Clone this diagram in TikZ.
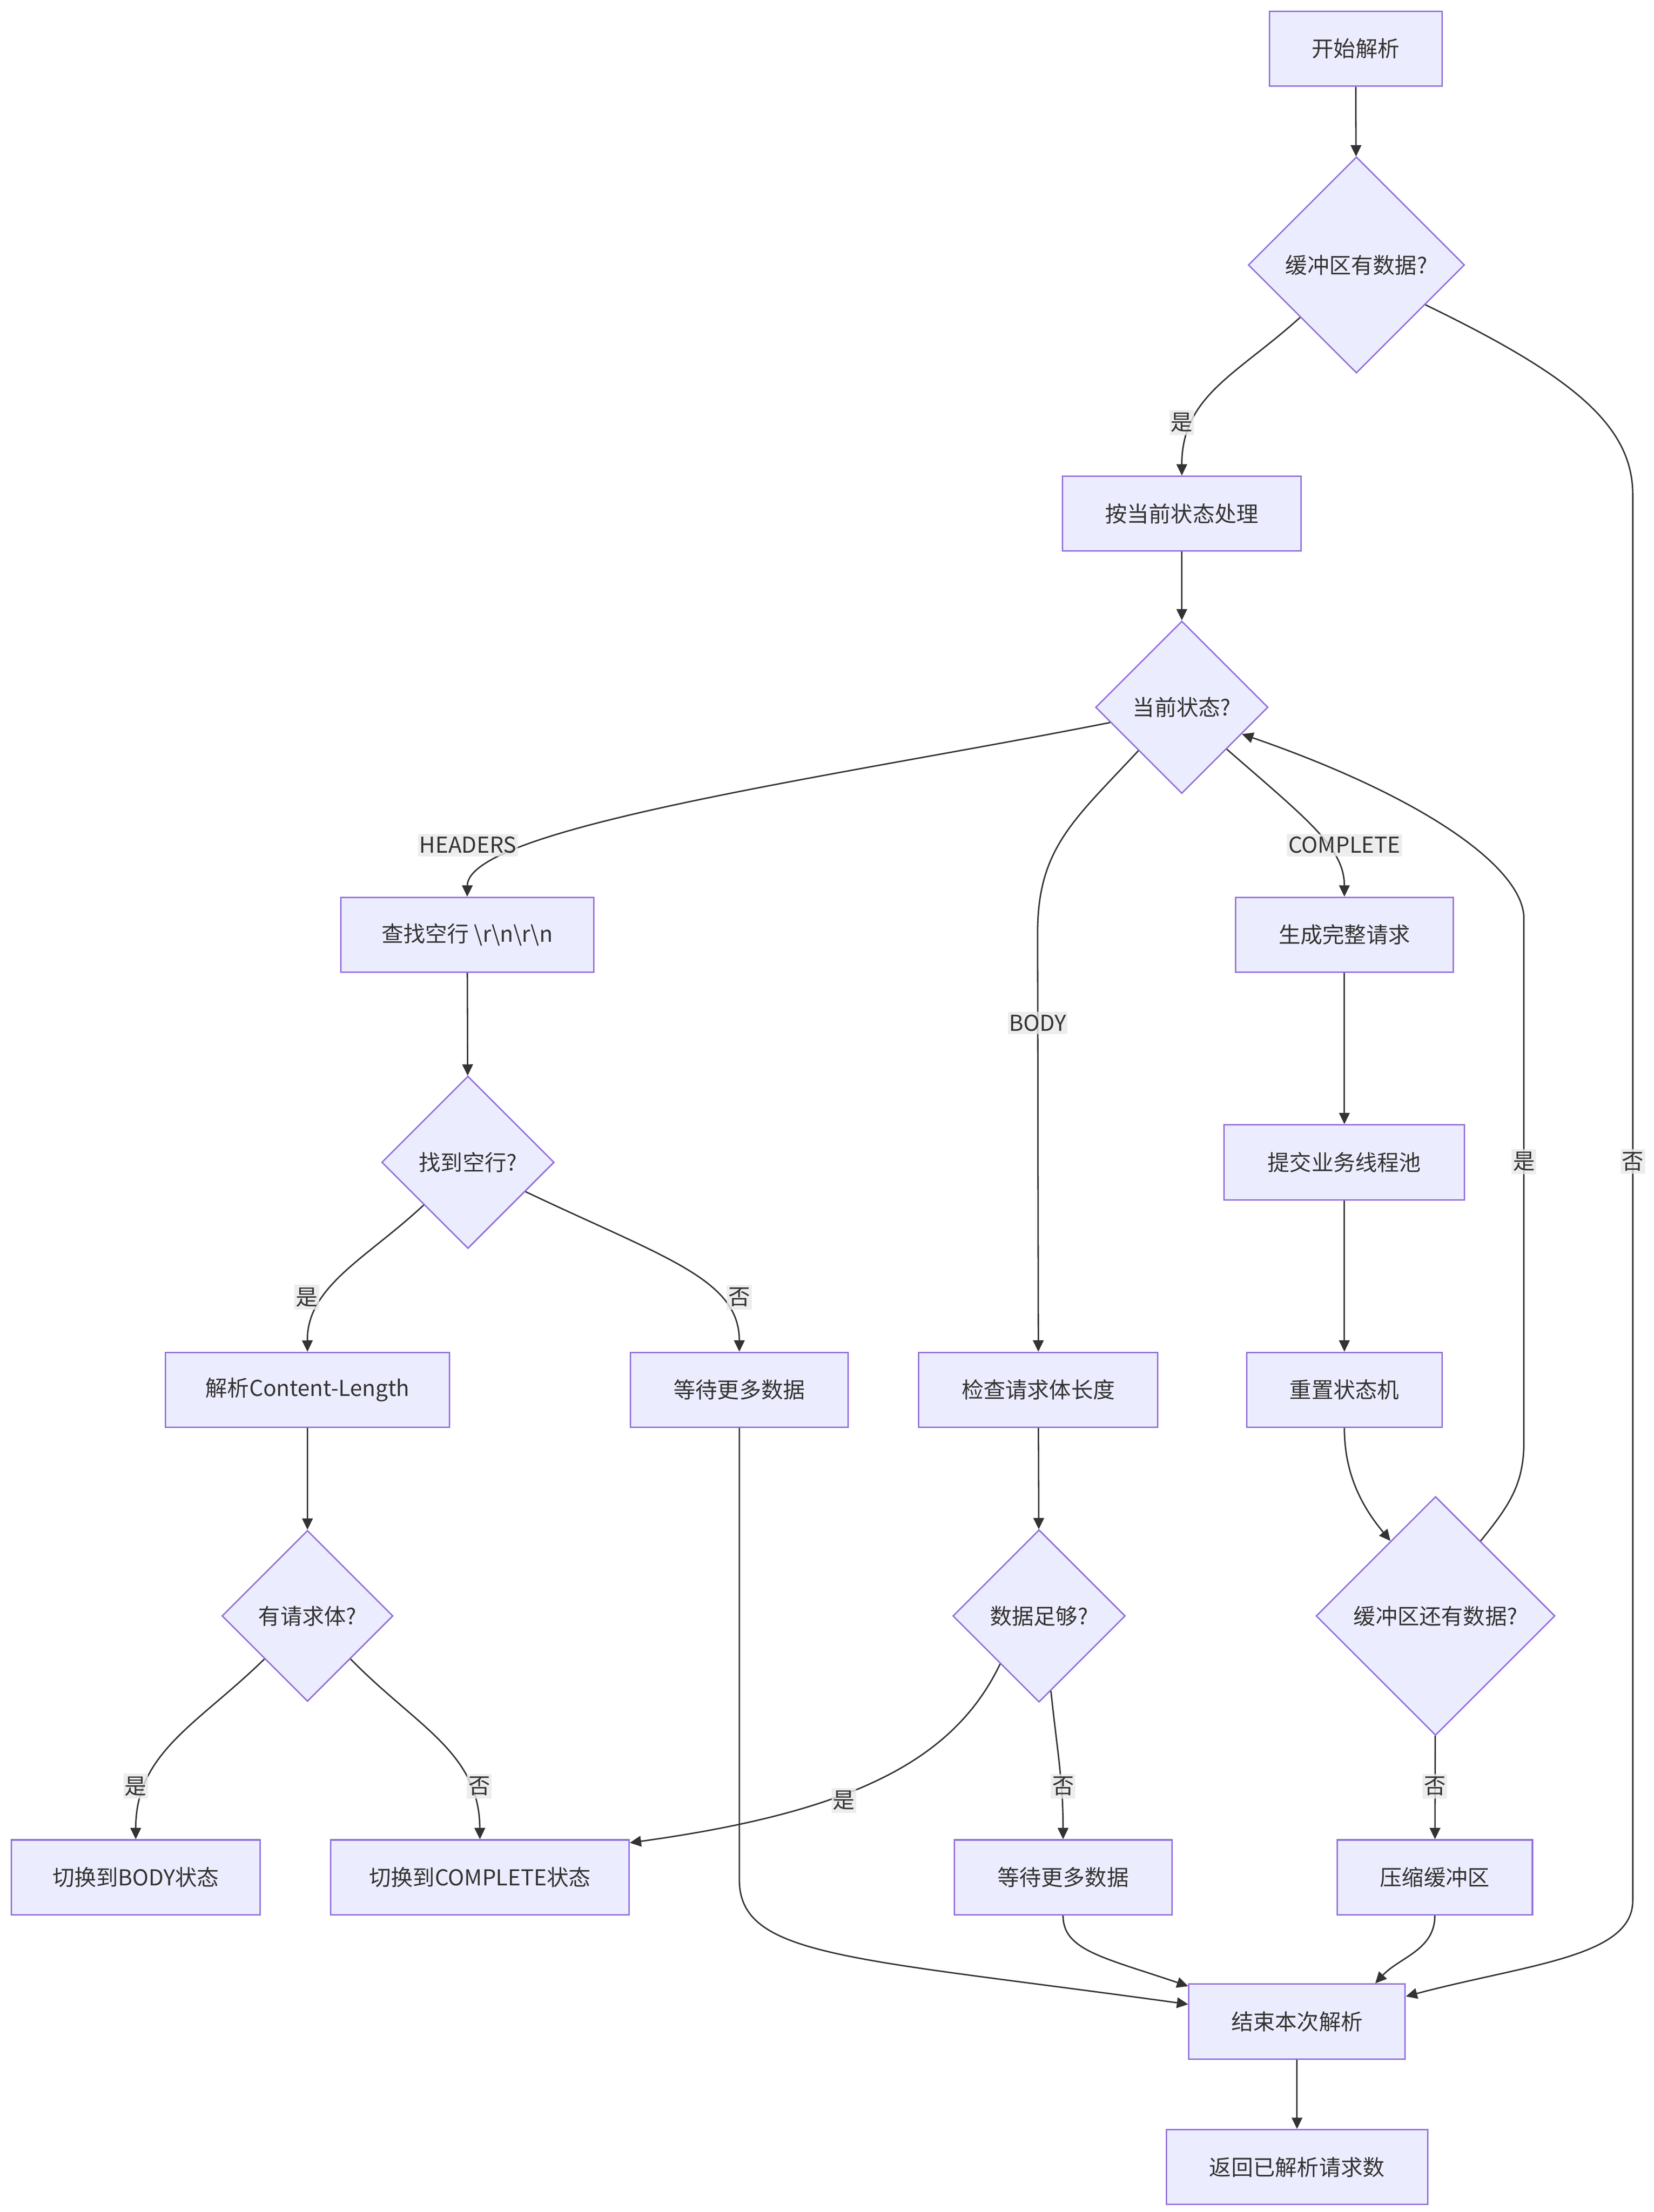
\documentclass[tikz,border=0pt]{standalone}
\usepackage{fontspec}
\setmainfont{Noto Sans CJK SC}
\usetikzlibrary{shapes.geometric}
\usetikzlibrary{arrows.meta}
\definecolor{nodefill}{HTML}{ECECFF}
\definecolor{nodeline}{HTML}{9370DB}
\definecolor{inkgray}{HTML}{333333}
\definecolor{lblgray}{HTML}{E8E8E8}
\newcommand*{\boxht}{53pt}
\newcommand*{\bs}{\textbackslash}

\begin{document}
\begin{tikzpicture}[x=1pt, y=-1pt, font=\fontsize{15.5}{18}\selectfont, text=inkgray,
    task/.style={draw=nodeline, fill=nodefill, line width=1pt, minimum height=\boxht, inner sep=0pt},
    choice/.style={diamond, draw=nodeline, fill=nodefill, line width=1pt, inner sep=1pt},
    flow/.style={draw=inkgray, line width=1pt, -{Triangle[length=8pt,width=7.5pt]}},
    lbl/.style={fill=lblgray, fill opacity=0.8, text opacity=1, inner xsep=1pt, inner ysep=2pt}]
    \useasboundingbox (0,0) rectangle (1170,1565.3);
        % main column
        \node [task, minimum width=122pt] (start) at (959,34.5) {开始解析};
        \node [choice, minimum width=153pt, minimum height=153pt] (bufq) at (959.5,187.5) {缓冲区有数据?};
        \node [task, minimum width=169pt] (handle) at (836,363.5) {按当前状态处理};
        \node [choice, minimum width=122pt, minimum height=122pt] (stateq) at (836,500.5) {当前状态?};
        % HEADERS
        \node [task, minimum width=179pt] (findnl) at (330.5,661.5) {查找空行 \bs r\bs n\bs r\bs n};
        \node [choice, minimum width=122pt, minimum height=122pt] (nlq) at (331,822.5) {找到空行?};
        \node [task, minimum width=201pt] (parsecl) at (217.5,983.5) {解析Content-Length};
        \node [task, minimum width=154pt] (waitA) at (523,983.5) {等待更多数据};
        \node [choice, minimum width=121pt, minimum height=121pt] (bodyq) at (217.5,1143.5) {有请求体?};
        \node [task, minimum width=176pt] (tobody) at (96,1328.5) {切换到BODY状态};
        \node [task, minimum width=211pt] (tocomp) at (339.5,1328.5) {切换到COMPLETE状态};
        % BODY
        \node [task, minimum width=169pt] (checkbody) at (734.5,983.5) {检查请求体长度};
        \node [choice, minimum width=122pt, minimum height=122pt] (enoughq) at (735,1143.5) {数据足够?};
        \node [task, minimum width=154pt] (waitB) at (752,1328.5) {等待更多数据};
        % COMPLETE
        \node [task, minimum width=154pt] (gencomp) at (951,661.5) {生成完整请求};
        \node [task, minimum width=170pt] (submit) at (951,822.5) {提交业务线程池};
        \node [task, minimum width=138pt] (reset) at (951,983.5) {重置状态机};
        \node [choice, minimum width=169pt, minimum height=169pt] (moreq) at (1015.5,1143.5) {缓冲区还有数据?};
        \node [task, minimum width=138pt] (compact) at (1015,1328.5) {压缩缓冲区};
        % end
        \node [task, minimum width=153pt] (finish) at (917.5,1430.5) {结束本次解析};
        \node [task, minimum width=185pt] (ret) at (917.5,1533.5) {返回已解析请求数};

        \draw [flow] (start) -- (bufq);
        \draw [flow] (bufq.223) .. controls (875,265) and (836,280) .. (handle.north);
        \draw [flow] (bufq.330) .. controls (1110,265) and (1155,300) .. (1155,350) -- (1155,1345) .. controls (1155,1385) and (1080,1390) .. (finish.13);
        \draw [flow] (handle) -- (stateq);
        \draw [flow] (stateq.192) .. controls (600,548) and (331,585) .. (findnl.north);
        \draw [flow] (stateq.225) .. controls (760,580) and (734,600) .. (734,660) -- (checkbody.north);
        \draw [flow] (stateq.317) .. controls (925,580) and (951,600) .. (gencomp.north);
        \draw [flow] (findnl) -- (nlq);
        \draw [flow] (nlq.224) .. controls (260,890) and (217,910) .. (parsecl.north);
        \draw [flow] (nlq.333) .. controls (470,890) and (523,905) .. (waitA.north);
        \draw [flow] (parsecl) -- (bodyq);
        \draw [flow] (bodyq.225) .. controls (140,1220) and (96,1240) .. (tobody.north);
        \draw [flow] (bodyq.315) .. controls (295,1222) and (339,1240) .. (tocomp.north);
        \draw [flow] (checkbody) -- (enoughq);
        \draw [flow] (enoughq.231) .. controls (675,1245) and (605,1282) .. (tocomp.13);
        \draw [flow] (enoughq.279) .. controls (748,1240) and (752,1260) .. (waitB.north);
        \draw [flow] (gencomp) -- (submit);
        \draw [flow] (submit) -- (reset);
        \draw [flow] (reset.south) .. controls (951,1045) and (965,1068) .. (moreq.121);
        \draw [flow] (moreq.59) .. controls (1068,1065) and (1078,1050) .. (1078,1020) -- (1078,650) .. controls (1078,615) and (1010,565) .. (stateq.336);
        \draw [flow] (moreq) -- (compact);
        \draw [flow] (waitA.south) -- (523,1330) .. controls (523,1385) and (600,1385) .. (finish.171);
        \draw [flow] (waitB.south) .. controls (752,1380) and (780,1385) .. (finish.162);
        \draw [flow] (compact.south) .. controls (1015,1380) and (990,1385) .. (finish.26);
        \draw [flow] (finish) -- (ret);

        \node [lbl] (lyes1) at (836,299) {是};
        \node [lbl] (lno1) at (1155,822) {否};
        \node [lbl] (lhead) at (331,598) {HEADERS};
        \node [lbl] (lbody) at (734,724) {BODY};
        \node [lbl] (lcomp) at (951,598) {COMPLETE};
        \node [lbl] (lyes2) at (217,918) {是};
        \node [lbl] (lno2) at (523,918) {否};
        \node [lbl] (lyes3) at (1078,822) {是};
        \node [lbl] (lno3) at (1015,1264) {否};
        \node [lbl] (lyes4) at (96,1264) {是};
        \node [lbl] (lno4) at (339,1264) {否};
        \node [lbl] (lyes5) at (597,1274) {是};
        \node [lbl] (lno5) at (752,1264) {否};
        %\draw [help lines] (0,0) grid[step=100] (1170,1565);
    \end{tikzpicture}
\end{document}
